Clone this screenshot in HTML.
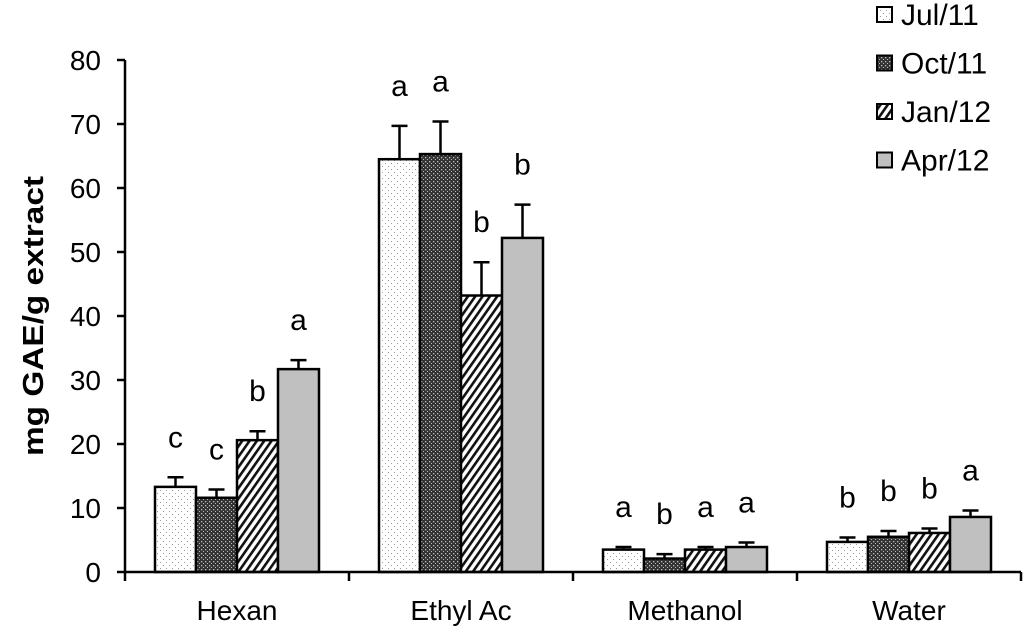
<!DOCTYPE html>
<html><head><meta charset="utf-8"><style>body{margin:0;background:#fff}svg{display:block;font-family:"Liberation Sans",sans-serif}</style></head>
<body>
<svg id="c" width="1024" height="634">
<defs>
<pattern id="p0" width="6" height="6" patternUnits="userSpaceOnUse"><rect width="6" height="6" fill="#fff"/><rect x="1" y="1" width="1" height="1" fill="#999"/><rect x="4" y="4" width="1" height="1" fill="#999"/></pattern>
<pattern id="p1" width="4" height="4" patternUnits="userSpaceOnUse"><rect width="4" height="4" fill="#333"/><rect x="1" y="1" width="1.3" height="1.3" fill="#bbb"/><rect x="3" y="3" width="1.3" height="1.3" fill="#bbb"/></pattern>
<pattern id="p2" width="6" height="6" patternUnits="userSpaceOnUse" patternTransform="rotate(35)"><rect width="6" height="6" fill="#fff"/><rect width="2.6" height="6" fill="#111"/></pattern>
<pattern id="p3" width="4" height="4" patternUnits="userSpaceOnUse"><rect width="4" height="4" fill="#c0c0c0"/></pattern>
</defs>
</svg>
<script>
const categories=["Hexan","Ethyl Ac","Methanol","Water"];
const seriesNames=["Jul/11","Oct/11","Jan/12","Apr/12"];
const jul11=[13.3,64.5,3.5,4.7];
const oct11=[11.6,65.3,2.1,5.5];
const jan12=[20.6,43.2,3.5,6.1];
const apr12=[31.7,52.2,3.9,8.6];
const errJul=[1.5,5.2,0.4,0.7];
const errOct=[1.3,5.1,0.7,0.9];
const errJan=[1.4,5.2,0.4,0.7];
const errApr=[1.4,5.2,0.7,1.0];
const lettersJul=["c","a","a","b"];
const lettersOct=["c","a","b","b"];
const lettersJan=["b","b","a","b"];
const lettersApr=["a","b","a","a"];
const yTicks=[0,10,20,30,40,50,60,70,80];
const svg=document.getElementById('c');const NS="http://www.w3.org/2000/svg";
function mk(t,a,p){const e=document.createElementNS(NS,t);for(const k in a)e.setAttribute(k,a[k]);(p||svg).appendChild(e);return e;}
const y0=572,yTop=60,ymax=80,xL=125,xR=1021,gw=(xR-xL)/categories.length,bw=41;
const Y=v=>y0-(v/ymax)*(y0-yTop);
const X=(g,s)=>xL+g*gw+30+s*bw;
const vals=[jul11,oct11,jan12,apr12],errs=[errJul,errOct,errJan,errApr],lets=[lettersJul,lettersOct,lettersJan,lettersApr];
for(let s=0;s<4;s++)for(let g=0;g<4;g++){
 const v=vals[s][g],e=errs[s][g],x=X(g,s),cx=x+bw/2;
 let r=mk('rect',{x:x,y:Y(v),width:bw,height:y0-Y(v),fill:'url(#p'+s+')',stroke:'#000','stroke-width':2.5});
 
 
 let l=mk('path',{d:`M${cx},${Y(v)}V${Y(v+e)}M${cx-8},${Y(v+e)}H${cx+8}`,stroke:'#000','stroke-width':2.5,fill:'none'});
 
 
 let t=mk('text',{x:cx,y:Y(v+e)-30,'font-size':30,'text-anchor':'middle'});t.textContent=lets[s][g];
 
 
}
let ax=mk('path',{d:`M${xL},${yTop}V${y0}H${xR}`,stroke:'#000','stroke-width':2.5,fill:'none'});


yTicks.forEach(v=>{mk('path',{d:`M${xL-8},${Y(v)}H${xL}`,stroke:'#000','stroke-width':2.5});
 let t=mk('text',{x:101,y:Y(v)+10,'font-size':28,'text-anchor':'end'});t.textContent=v;
 
 });
for(let g=0;g<=4;g++)mk('path',{d:`M${xL+g*gw},${y0}V${y0+9}`,stroke:'#000','stroke-width':2.5});
categories.forEach((c,g)=>{let t=mk('text',{x:xL+g*gw+gw/2,y:620,'font-size':28,'text-anchor':'middle'});t.textContent=c;
 
 });
let yt=mk('text',{x:0,y:0,'font-size':29,'font-weight':'bold','text-anchor':'middle',textLength:280,lengthAdjust:'spacingAndGlyphs',transform:'translate(43,316) rotate(-90)'});yt.textContent='mg GAE/g extract';


seriesNames.forEach((n,s)=>{const yy=14+s*48.5;
 let g=mk('g',{});
 
 
 mk('rect',{x:877,y:yy-7,width:15,height:15,fill:'url(#p'+s+')',stroke:'#000','stroke-width':2},g);
 let t=mk('text',{x:901,y:yy+11,'font-size':30},g);t.textContent=n;});
</script>
</body></html>
